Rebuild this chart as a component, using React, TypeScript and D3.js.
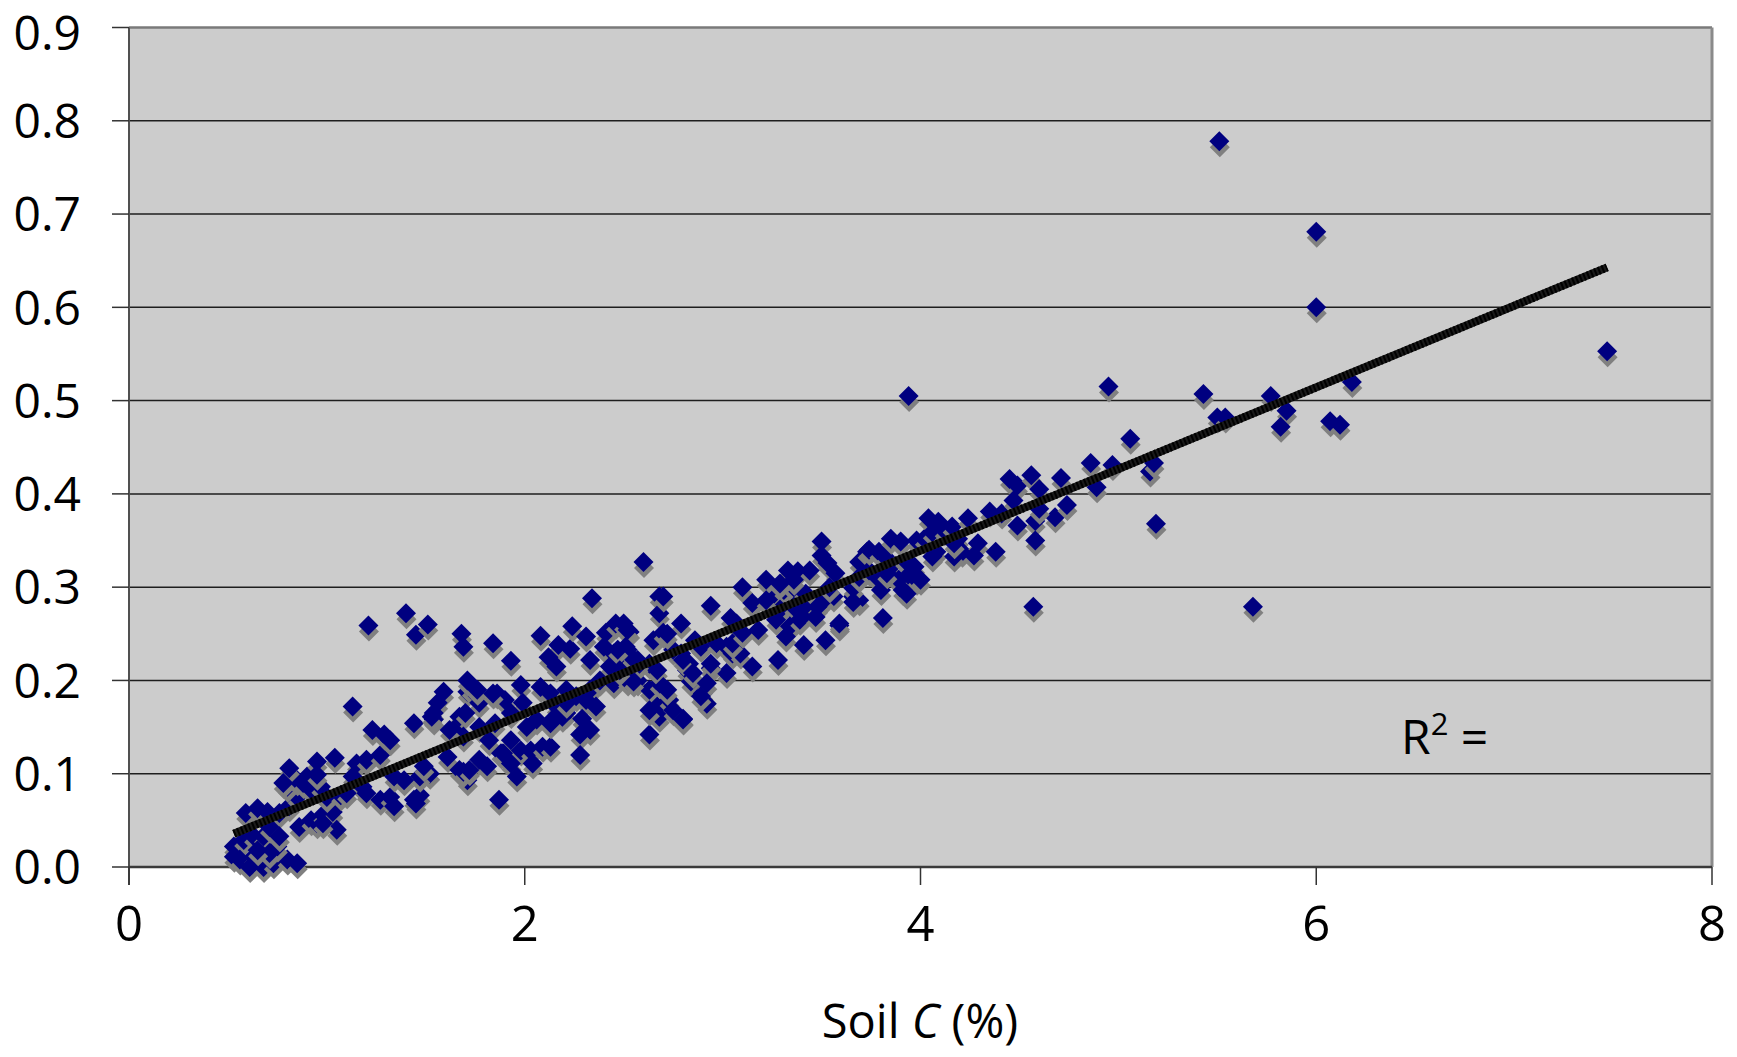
import React from 'react';
import * as d3 from 'd3';

// values: [soil C (%), y]
const lowPoints: [number, number][] = [
  [0.53, 0.022], [0.58, 0.029], [0.63, 0.033], [0.68, 0.033],
  [0.53, 0.011], [0.56, 0.008], [0.63, 0.011], [0.70, 0.008],
  [0.61, 0.0], [0.68, 0.0], [0.73, 0.004], [0.80, 0.008], [0.85, 0.004],
  [0.75, 0.022], [0.71, 0.015], [0.65, 0.018],
  [0.59, 0.058], [0.65, 0.063], [0.70, 0.059], [0.76, 0.058], [0.81, 0.065], [0.85, 0.075],
  [0.80, 0.086], [0.85, 0.093], [0.90, 0.097],
  [0.71, 0.043], [0.76, 0.033], [0.86, 0.043], [0.92, 0.050], [0.95, 0.047],
  [0.98, 0.056], [1.03, 0.059], [1.05, 0.040], [0.98, 0.047],
  [0.81, 0.106], [0.78, 0.090], [0.88, 0.090], [0.92, 0.083], [0.97, 0.086], [1.00, 0.075],
  [0.95, 0.113], [0.95, 0.099], [1.04, 0.117],
  [1.15, 0.111], [1.20, 0.115], [1.27, 0.120],
  [1.13, 0.097], [1.18, 0.086], [1.20, 0.079], [1.07, 0.077], [1.10, 0.079],
  [1.27, 0.072], [1.32, 0.075], [1.34, 0.065], [1.44, 0.072], [1.47, 0.077], [1.45, 0.068],
  [1.52, 0.100], [1.47, 0.097], [1.34, 0.097], [1.39, 0.093],
  [1.61, 0.118], [1.67, 0.104], [1.71, 0.093], [1.49, 0.108], [1.69, 0.102],
];

const midPoints: [number, number][] = [
  [1.13, 0.172], [1.23, 0.147], [1.29, 0.142], [1.32, 0.136], [1.44, 0.154],
  [1.59, 0.188], [1.56, 0.176], [1.54, 0.165], [1.54, 0.158], [1.67, 0.161], [1.64, 0.147], [1.71, 0.188],
  [1.21, 0.259], [1.40, 0.272], [1.45, 0.249], [1.51, 0.260],
  [1.68, 0.250], [1.69, 0.236], [1.84, 0.240], [1.93, 0.221], [2.08, 0.248], [2.17, 0.238],
  [2.23, 0.234], [2.24, 0.258], [2.31, 0.247],
  [2.12, 0.225], [2.16, 0.215], [2.33, 0.222],
  [2.41, 0.251], [2.46, 0.261], [2.53, 0.252], [2.40, 0.236], [2.45, 0.229], [2.52, 0.233],
  [2.48, 0.222], [2.43, 0.215],
  [2.57, 0.222], [2.63, 0.218], [2.68, 0.290], [2.68, 0.272], [2.65, 0.243], [2.70, 0.251],
  [2.34, 0.288], [2.60, 0.327], [2.79, 0.261],
  [1.53, 0.161], [1.73, 0.190], [1.77, 0.176],
  [1.86, 0.186], [1.90, 0.179], [1.98, 0.195], [2.08, 0.193], [2.13, 0.186],
  [1.99, 0.176], [1.93, 0.165],
  [2.21, 0.190], [2.26, 0.183], [2.33, 0.190],
  [2.16, 0.172], [2.21, 0.165], [2.14, 0.158],
  [2.38, 0.200], [2.45, 0.197], [2.52, 0.200],
  [2.31, 0.179], [2.36, 0.172],
  [2.57, 0.200], [2.63, 0.190], [2.68, 0.197], [2.67, 0.172], [2.68, 0.161],
  [2.29, 0.159], [2.33, 0.147], [2.28, 0.142], [2.28, 0.120], [2.63, 0.142],
  [1.70, 0.165], [1.77, 0.150], [1.69, 0.140], [1.62, 0.147],
  [1.85, 0.154], [1.82, 0.136], [1.88, 0.122],
  [1.77, 0.115], [1.81, 0.108], [1.72, 0.104],
  [1.93, 0.136], [1.98, 0.125], [1.89, 0.122], [1.93, 0.111],
  [2.03, 0.125], [2.09, 0.129], [2.13, 0.129],
  [2.06, 0.158], [2.01, 0.150],
  [2.80, 0.159], [1.87, 0.072], [1.71, 0.200], [1.76, 0.190], [1.84, 0.186],
  [1.96, 0.097], [2.04, 0.111],
  [2.19, 0.161], [2.21, 0.176], [2.13, 0.154],
  [2.79, 0.229], [2.83, 0.218],
];

const upperMidPoints: [number, number][] = [
  [2.50, 0.261], [2.52, 0.254], [2.51, 0.236], [2.54, 0.225], [2.58, 0.218], [2.55, 0.199],
  [2.67, 0.211], [2.70, 0.193], [2.75, 0.233], [2.73, 0.179],
  [2.82, 0.211], [2.84, 0.199], [2.86, 0.243], [2.89, 0.236], [2.90, 0.186], [2.92, 0.175],
  [2.94, 0.213], [2.97, 0.240],
  [3.02, 0.208], [3.02, 0.236], [3.05, 0.229], [3.09, 0.229], [3.15, 0.215], [3.28, 0.222],
  [3.41, 0.238], [3.52, 0.243], [3.59, 0.259],
  [2.70, 0.290], [2.94, 0.280], [3.10, 0.300], [3.15, 0.283], [3.04, 0.267], [3.07, 0.261], [3.18, 0.254],
  [3.66, 0.290], [3.69, 0.286], [3.69, 0.327], [3.73, 0.338], [3.50, 0.349], [3.50, 0.334],
  [3.53, 0.326], [3.57, 0.315], [3.56, 0.290], [3.51, 0.286],
  [3.33, 0.318], [3.38, 0.317], [3.44, 0.318], [3.26, 0.293], [3.31, 0.297], [3.36, 0.300], [3.42, 0.293],
  [3.29, 0.276], [3.36, 0.279], [3.42, 0.276], [3.48, 0.279], [3.27, 0.265], [3.34, 0.258],
  [3.39, 0.265], [3.32, 0.247],
  [3.22, 0.308], [3.22, 0.286], [3.36, 0.308], [3.29, 0.304], [3.54, 0.300],
  [3.47, 0.268], [3.05, 0.240], [3.10, 0.251],
  [2.72, 0.250], [2.47, 0.233], [2.63, 0.168], [2.48, 0.211],
  [2.80, 0.222], [2.94, 0.218], [2.85, 0.208], [2.92, 0.197], [2.72, 0.190], [2.75, 0.168],
  [2.80, 0.158], [2.89, 0.183],
];

const upperPoints: [number, number][] = [
  [3.66, 0.299], [3.69, 0.311], [3.74, 0.318], [3.78, 0.311], [3.80, 0.297], [3.66, 0.284],
  [3.59, 0.261], [3.81, 0.267],
  [3.74, 0.340], [3.79, 0.338], [3.82, 0.333], [3.85, 0.322], [3.92, 0.329], [3.97, 0.322],
  [3.93, 0.311], [3.98, 0.308], [3.89, 0.308], [3.91, 0.297],
  [3.85, 0.352], [3.90, 0.349], [3.98, 0.350], [4.02, 0.352],
  [4.04, 0.374], [4.09, 0.370], [4.06, 0.359], [4.12, 0.361], [4.16, 0.365], [4.19, 0.352],
  [4.21, 0.338], [4.08, 0.338],
  [4.24, 0.374], [4.29, 0.347], [4.27, 0.334], [4.35, 0.381], [4.41, 0.379], [4.38, 0.338],
  [4.06, 0.333], [4.17, 0.333], [4.17, 0.347],
  [3.83, 0.315], [3.93, 0.293], [4.00, 0.308],
];

const rightPoints: [number, number][] = [
  [4.45, 0.416], [4.49, 0.409], [4.56, 0.420], [4.60, 0.405], [4.71, 0.417], [4.86, 0.433],
  [4.97, 0.431], [4.89, 0.407],
  [5.06, 0.459], [5.16, 0.424], [5.18, 0.433], [5.19, 0.368],
  [4.49, 0.366], [4.58, 0.371], [4.68, 0.375], [4.74, 0.388], [4.58, 0.350], [4.57, 0.279],
  [4.47, 0.393], [4.60, 0.384],
  [5.50, 0.482], [5.54, 0.482], [5.85, 0.489], [5.82, 0.472], [6.07, 0.478], [6.12, 0.474],
];

const outliers: [number, number][] = [
  [3.94, 0.505], [4.95, 0.515], [5.43, 0.507], [5.77, 0.505], [6.18, 0.520],
  [5.51, 0.778], [6.00, 0.681], [6.00, 0.600], [7.47, 0.553], [5.68, 0.279],
];

const xTicks = [0, 2, 4, 6, 8];
const yTicks = [0, 0.1, 0.2, 0.3, 0.4, 0.5, 0.6, 0.7, 0.8, 0.9];

// linear trend
const trendSlope = 0.0875;
const trendIntercept = -0.0108;

const FONT = '"Comic Sans MS", "Open Sans", sans-serif';

export default function App() {
  const width = 1737;
  const height = 1057;
  const left = 129;
  const right = 1712;
  const top = 27.5;
  const bottom = 867;

  const x = d3.scaleLinear().domain([0, 8]).range([left, right]);
  const y = d3.scaleLinear().domain([0, 0.9]).range([bottom, top]);

  const points = [...lowPoints, ...midPoints, ...upperMidPoints, ...upperPoints, ...rightPoints, ...outliers];
  const [xMin, xMax] = d3.extent(points, (d) => d[0]) as [number, number];
  const trend = [xMin, xMax].map((v) => [v, trendSlope * v + trendIntercept] as [number, number]);
  const trendPath = d3.line<[number, number]>()
    .x((d) => x(d[0]))
    .y((d) => y(d[1]))(trend) as string;

  const marker = d3.symbol().type(d3.symbolSquare).size(200)() as string;
  const fmtY = d3.format('.1f');

  return (
    <svg
      width={width}
      height={height}
      style={{ position: 'absolute', left: 0, top: 0, background: '#fff' }}
      fontFamily={FONT}
    >
      <rect x={left} y={top} width={right - left} height={bottom - top} fill="#cccccc" />

      {/* gridlines */}
      {yTicks.slice(1, -1).map((t) => (
        <line key={'g' + t} x1={left} x2={right} y1={y(t)} y2={y(t)} stroke="#1e1e1e" strokeWidth={1.5} />
      ))}

      {/* frame */}
      <line x1={left} x2={right} y1={top} y2={top} stroke="#7a7a7a" strokeWidth={2.5} />
      <line x1={right} x2={right} y1={top} y2={bottom} stroke="#8a8a8a" strokeWidth={3} />
      <line x1={left} x2={left} y1={top} y2={bottom + 18} stroke="#505050" strokeWidth={2} />
      <line x1={left} x2={right} y1={bottom} y2={bottom} stroke="#3a3a3a" strokeWidth={2.5} />

      {/* y ticks */}
      {yTicks.map((t) => (
        <g key={'y' + t}>
          <line x1={left - 17} x2={left} y1={y(t)} y2={y(t)} stroke="#333" strokeWidth={1.5} />
          <text x={81} y={Math.max(y(t), 33)} dy="0.36em" textAnchor="end" fontSize={48} fill="#000">
            {fmtY(t)}
          </text>
        </g>
      ))}

      {/* x ticks */}
      {xTicks.map((t) => (
        <g key={'x' + t}>
          <line x1={x(t)} x2={x(t)} y1={bottom} y2={bottom + 18} stroke="#333" strokeWidth={1.5} />
          <text x={x(t)} y={941} textAnchor="middle" fontSize={49} fill="#000">
            {t}
          </text>
        </g>
      ))}

      <text x={920} y={1038} textAnchor="middle" fontSize={47} fill="#000">
        Soil <tspan fontStyle="italic">C</tspan> (%)
      </text>

      {/* points */}
      {points.map((d, i) => (
        <g key={'p' + i} transform={`translate(${x(d[0])},${y(d[1])})`}>
          <path d={marker} transform="translate(0.5,6) rotate(45)" fill="#808080" />
          <path d={marker} transform="rotate(45)" fill="#000080" />
        </g>
      ))}

      {/* trend line */}
      <path d={trendPath} stroke="#1a1a1a" strokeWidth={8} fill="none" />
      <path d={trendPath} stroke="#000" strokeWidth={8} strokeDasharray="2 2" fill="none" />

      <text x={1401} y={754} fontSize={48} fill="#000">
        R<tspan dy={-19} fontSize={31}>2</tspan>
        <tspan dy={19}> =</tspan>
      </text>
    </svg>
  );
}
